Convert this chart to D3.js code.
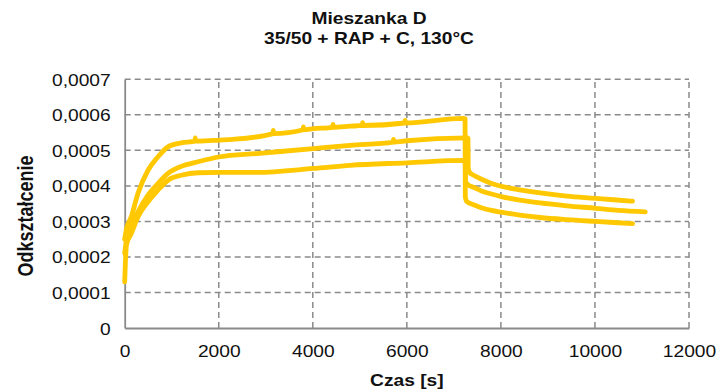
<!DOCTYPE html>
<html>
<head>
<meta charset="utf-8">
<script src="https://cdn.jsdelivr.net/npm/d3@7"></script>
<style>
  html, body { margin: 0; padding: 0; background: #fff; }
  svg { display: block; font-family: "Liberation Sans", Arial, sans-serif; }
</style>
</head>
<body>
<svg id="chart" width="721" height="390"></svg>
<script>
// Creep test, mixture D: strain vs time for three specimens (load phase, then recovery)
const titleLines = ["Mieszanka D", "35/50 + RAP + C, 130°C"];
const xTitle = "Czas [s]";
const yTitle = "Odkształcenie";

const xTicks = [0, 2000, 4000, 6000, 8000, 10000, 12000];
const yTicks = [0, 0.0001, 0.0002, 0.0003, 0.0004, 0.0005, 0.0006, 0.0007];

// Specimen 1 (highest strain under load)
const time1 = [0, 40, 140, 283, 496, 709, 921, 1205, 1495, 1500, 1505, 1560, 2028, 2300, 3155, 3160, 3165,
  3795, 3800, 3805, 4013, 4425, 4430, 4435, 4794, 5055, 5060, 5065, 5959, 5964, 5969, 7205, 7238, 7243, 7275,
  7420, 7600, 7800, 8006, 8400, 8836, 9400, 10013, 10400, 10800];
const strain1 = [0.000250, 0.000280, 0.000313, 0.000379, 0.000444, 0.000482, 0.000510, 0.000521, 0.000526,
  0.000535, 0.000526, 0.000526, 0.000529, 0.000531, 0.000547, 0.000556, 0.000547,
  0.000558, 0.000566, 0.000558, 0.000561, 0.000565, 0.000573, 0.000565, 0.000568, 0.000570, 0.000578, 0.000570,
  0.000577, 0.000584, 0.000577, 0.000590, 0.000589, 0.000370, 0.000356,
  0.000347, 0.000338, 0.000331, 0.000326, 0.000318, 0.000311, 0.000305, 0.000300, 0.000297, 0.000294];

// Specimen 2
const time2 = [0, 40, 140, 283, 496, 709, 921, 1205, 1560, 2028, 2809, 4013, 4794, 5711, 5716, 5721, 6000,
  7290, 7300, 7305, 7340, 7420, 7600, 7800, 8006, 8400, 8836, 9400, 10013, 10400, 10800];
const strain2 = [0.000210, 0.000250, 0.000285, 0.000327, 0.000374, 0.000407, 0.000435, 0.000455, 0.000468,
  0.000482, 0.000491, 0.000505, 0.000514, 0.000523, 0.000531, 0.000523, 0.000527,
  0.000535, 0.000534, 0.000450, 0.000437, 0.000430, 0.000418, 0.000407, 0.000399, 0.000389, 0.000380,
  0.000371, 0.000365, 0.000361, 0.000357];

// Specimen 3 (lowest strain under load)
const time3 = [0, 20, 40, 140, 283, 496, 709, 921, 1205, 1560, 2028, 2809, 4013, 4794, 6000, 7205, 7240,
  7248, 7300, 7417, 7600, 7800, 8006, 8400, 8836, 9400, 10013, 10500, 11070];
const strain3 = [0.000130, 0.000200, 0.000235, 0.000266, 0.000313, 0.000355, 0.000388, 0.000416, 0.000430,
  0.000437, 0.000438, 0.000438, 0.000449, 0.000458, 0.000465, 0.000472, 0.000471,
  0.000412, 0.000403, 0.000396, 0.000385, 0.000377, 0.000370, 0.000360, 0.000352, 0.000344, 0.000337,
  0.000331, 0.000327];

const series = [
  { t: time1, v: strain1 },
  { t: time2, v: strain2 },
  { t: time3, v: strain3 }
];

const svg = d3.select("#chart");
const margin = { left: 124.7, right: 721 - 689, top: 79.3, bottom: 390 - 328 };
const W = 721, H = 390;
const x = d3.scaleLinear().domain([0, 12000]).range([margin.left, W - margin.right]);
const y = d3.scaleLinear().domain([0, 0.0007]).range([H - margin.bottom, margin.top]);

const plLocale = d3.formatLocale({ decimal: ",", thousands: "", grouping: [3], currency: ["", " zł"] });
const yFmt = v => v === 0 ? "0" : plLocale.format(".4f")(v);
const xFmt = d3.format("d");

const sx = 1.2; // horizontal text stretch
const gridColor = "#8a8a8a";

// gridlines
const grid = svg.append("g");
grid.selectAll("line.h").data(yTicks.filter(d => d > 0)).join("line")
  .attr("x1", x(0)).attr("x2", x(12000))
  .attr("y1", d => y(d)).attr("y2", d => y(d))
  .attr("stroke", gridColor).attr("stroke-width", 1.5).attr("stroke-dasharray", "6,4");
grid.selectAll("line.v").data(xTicks.filter(d => d > 0)).join("line")
  .attr("x1", d => x(d)).attr("x2", d => x(d))
  .attr("y1", y(0)).attr("y2", y(0.0007))
  .attr("stroke", gridColor).attr("stroke-width", 1.5).attr("stroke-dasharray", "6,4");

// axes
const xAxis = d3.axisBottom(x).tickValues(xTicks).tickSize(0).tickPadding(0).tickFormat(xFmt);
const yAxis = d3.axisLeft(y).tickValues(yTicks).tickSize(0).tickPadding(0).tickFormat(yFmt);

const gx = svg.append("g").attr("transform", `translate(0,${y(0)})`).call(xAxis);
const gy = svg.append("g").attr("transform", `translate(${x(0)},0)`).call(yAxis);
[gx, gy].forEach(g => {
  g.select(".domain").attr("stroke", gridColor).attr("stroke-width", 1.8);
  g.selectAll("text").attr("font-size", 16).attr("fill", "#111")
    .attr("font-family", "'Liberation Sans', Arial, sans-serif");
});
gx.selectAll(".tick text").attr("y", 0).attr("dy", 0)
  .attr("transform", `translate(0,29) scale(${sx},1)`);
gy.selectAll(".tick text").attr("x", 0).attr("dy", 0)
  .attr("transform", `translate(-14,6) scale(${sx},1)`);

// curves
const line = d3.line().x(d => x(d[0])).y(d => y(d[1])).curve(d3.curveMonotoneX);
svg.append("g").selectAll("path").data(series).join("path")
  .attr("d", s => line(s.t.map((t, i) => [t, s.v[i]])))
  .attr("fill", "none")
  .attr("stroke", "#ffc800")
  .attr("stroke-width", 4.8)
  .attr("stroke-linejoin", "round")
  .attr("stroke-linecap", "round");

// titles
svg.selectAll("text.title").data(titleLines).join("text")
  .attr("class", "title")
  .attr("transform", (d, i) => `translate(369,${24 + i * 20}) scale(${sx},1)`)
  .attr("text-anchor", "middle")
  .attr("font-size", 16).attr("font-weight", "bold").attr("fill", "#111")
  .text(d => d);

svg.append("text")
  .attr("transform", `translate(${(x(0) + x(12000)) / 2},386) scale(${sx},1)`)
  .attr("text-anchor", "middle")
  .attr("font-size", 16).attr("font-weight", "bold").attr("fill", "#111")
  .text(xTitle);

svg.append("text")
  .attr("transform", `translate(33,216) rotate(-90) scale(1,${sx})`)
  .attr("text-anchor", "middle")
  .attr("font-size", 18).attr("font-weight", "bold").attr("fill", "#111")
  .text(yTitle);
</script>
</body>
</html>
